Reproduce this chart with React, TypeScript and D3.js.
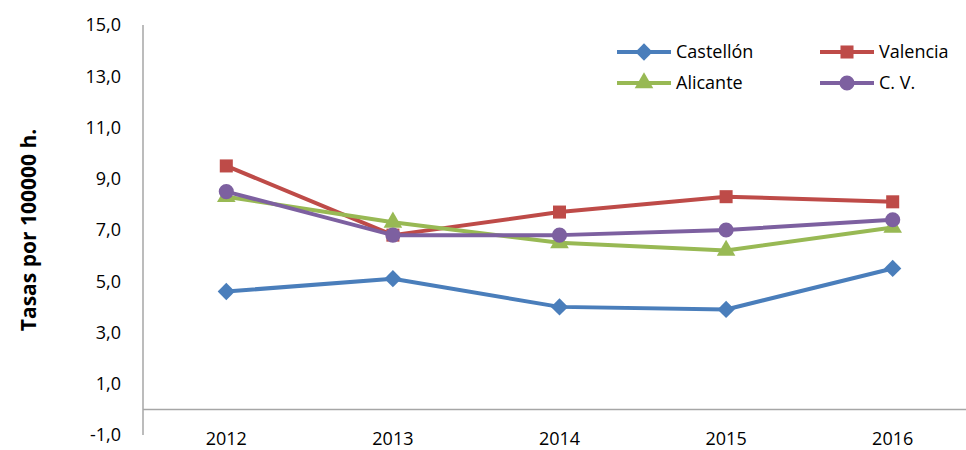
import React, { useEffect, useRef } from 'react';
import * as d3 from 'd3';

const years = ['2012', '2013', '2014', '2015', '2016'];
const castellon = [4.6, 5.1, 4.0, 3.9, 5.5];
const valencia = [9.5, 6.8, 7.7, 8.3, 8.1];
const alicante = [8.3, 7.3, 6.5, 6.2, 7.1];
const cv = [8.5, 6.8, 6.8, 7.0, 7.4];
const yTicks = [-1, 1, 3, 5, 7, 9, 11, 13, 15];

const series = [
  { name: 'Castellón', values: castellon, color: '#4a7ebb', symbol: d3.symbolDiamond2, size: 190 },
  { name: 'Valencia', values: valencia, color: '#be4b48', symbol: d3.symbolSquare, size: 170 },
  { name: 'Alicante', values: alicante, color: '#98b954', symbol: d3.symbolTriangle, size: 150 },
  { name: 'C. V.', values: cv, color: '#7d60a0', symbol: d3.symbolCircle, size: 180 },
];

const FONT = "'Open Sans', 'Liberation Sans', sans-serif";

const App: React.FC = () => {
  const svgRef = useRef<SVGSVGElement | null>(null);

  useEffect(() => {
    if (!svgRef.current) return;
    const svg = d3.select(svgRef.current);
    svg.selectAll('*').remove();

    const width = 966;
    const left = 143;
    const top = 25;
    const bottom = 435;

    const x = d3.scalePoint<string>().domain(years).range([left, 976]).padding(0.5);
    const y = d3.scaleLinear().domain([-1, 15]).range([bottom, top]);

    const fmt = d3.formatLocale({
      decimal: ',', thousands: '.', grouping: [3], currency: ['', '€'], minus: '-',
    }).format('.1f');

    // y axis line + labels
    svg.append('line')
      .attr('x1', left).attr('x2', left)
      .attr('y1', top).attr('y2', bottom)
      .attr('stroke', '#a6a6a6').attr('stroke-width', 1.5);

    svg.append('g')
      .selectAll('text')
      .data(yTicks)
      .join('text')
      .attr('x', 121)
      .attr('y', d => y(d))
      .attr('dy', '0.35em')
      .attr('text-anchor', 'end')
      .attr('font-family', FONT)
      .attr('font-size', 18)
      .attr('fill', '#000')
      .text(d => fmt(d));

    // zero line
    svg.append('line')
      .attr('x1', left).attr('x2', width)
      .attr('y1', y(0)).attr('y2', y(0))
      .attr('stroke', '#a6a6a6').attr('stroke-width', 1.5);

    // x labels
    svg.append('g')
      .selectAll('text')
      .data(years)
      .join('text')
      .attr('x', d => x(d)!)
      .attr('y', 439)
      .attr('dy', '0.35em')
      .attr('text-anchor', 'middle')
      .attr('font-family', FONT)
      .attr('font-size', 18)
      .attr('fill', '#000')
      .text(d => d);

    // y title
    svg.append('text')
      .attr('transform', `translate(36,${(top + bottom) / 2}) rotate(-90)`)
      .attr('text-anchor', 'middle')
      .attr('font-family', FONT)
      .attr('font-size', 21)
      .attr('font-weight', 'bold')
      .attr('fill', '#000')
      .text('Tasas por 100000 h.');

    const line = d3.line<number>()
      .x((_, i) => x(years[i])!)
      .y(d => y(d));

    series.forEach(s => {
      svg.append('path')
        .datum(s.values)
        .attr('fill', 'none')
        .attr('stroke', s.color)
        .attr('stroke-width', 4)
        .attr('stroke-linejoin', 'round')
        .attr('d', line);

      svg.append('g')
        .selectAll('path')
        .data(s.values)
        .join('path')
        .attr('transform', (d, i) => `translate(${x(years[i])},${y(d)})`)
        .attr('d', d3.symbol().type(s.symbol).size(s.size)())
        .attr('fill', s.color);
    });

    // legend
    const legendPos = [
      { x: 617, y: 52 },
      { x: 820, y: 52 },
      { x: 617, y: 83 },
      { x: 820, y: 83 },
    ];
    series.forEach((s, i) => {
      const p = legendPos[i];
      const g = svg.append('g').attr('transform', `translate(${p.x},${p.y})`);
      g.append('line')
        .attr('x1', 0).attr('x2', 54)
        .attr('y1', 0).attr('y2', 0)
        .attr('stroke', s.color).attr('stroke-width', 4);
      g.append('path')
        .attr('transform', 'translate(27,0)')
        .attr('d', d3.symbol().type(s.symbol).size(s.size)())
        .attr('fill', s.color);
      g.append('text')
        .attr('x', 59)
        .attr('y', 0)
        .attr('dy', '0.35em')
        .attr('font-family', FONT)
        .attr('font-size', 18)
        .attr('fill', '#000')
        .text(s.name);
    });
  }, []);

  return (
    <svg
      ref={svgRef}
      width={966}
      height={450}
      style={{ position: 'absolute', left: 0, top: 0, background: '#fff' }}
    />
  );
};

export default App;
